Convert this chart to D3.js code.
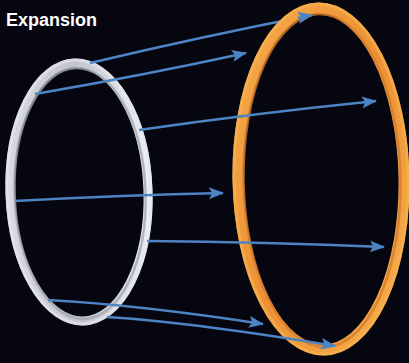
<!DOCTYPE html>
<html>
<head>
<meta charset="utf-8">
<script src="https://cdn.jsdelivr.net/npm/d3@7"></script>
<style>
  html, body { margin: 0; padding: 0; background: #05060f; }
  svg { display: block; }
</style>
</head>
<body>
<div id="chart"></div>
<script>
// rings: [name, cx, cy, rx, ry, tilt]
const rings = [
  ['source', 79, 192, 69, 129, -2],
  ['target', 321, 179, 83, 171, -1]
]

// arrows: start, bend, end
const arrowStart = [[90, 63], [35, 94], [139, 130], [15, 201], [147, 241], [48, 300], [107, 317]]
const arrowBend = [[200, 37], [140, 76], [257, 113], [125, 195], [265, 242], [140, 305], [190, 322]]
const arrowEnd = [[312, 15], [246, 53], [376, 101], [223, 193], [384, 247], [263, 324], [335, 346]]
const behindTarget = [true, false, false, false, false, false, false]

const title = 'Expansion'

const width = 409
const height = 363

const x = d3.scaleLinear().domain([0, 409]).range([0, width])
const y = d3.scaleLinear().domain([0, 363]).range([0, height])

const svg = d3
  .select('#chart')
  .append('svg')
  .attr('width', width)
  .attr('height', height)

svg.append('rect').attr('width', width).attr('height', height).attr('fill', '#05060f')

const defs = svg.append('defs')

// gradients for the two rings
let g1 = defs.append('linearGradient').attr('id', 'gWhite').attr('x1', '0').attr('x2', '1').attr('y1', '0').attr('y2', '0')
g1.append('stop').attr('offset', '0%').attr('stop-color', '#d9dae0')
g1.append('stop').attr('offset', '50%').attr('stop-color', '#c3c4cb')
g1.append('stop').attr('offset', '100%').attr('stop-color', '#eceef5')

let g2 = defs.append('linearGradient').attr('id', 'gOrange').attr('x1', '0').attr('x2', '1').attr('y1', '0').attr('y2', '1')
g2.append('stop').attr('offset', '0%').attr('stop-color', '#f5ab4a')
g2.append('stop').attr('offset', '50%').attr('stop-color', '#ec9036')
g2.append('stop').attr('offset', '100%').attr('stop-color', '#f7b04f')

// the head of the top arrow sits in front of the orange ring
defs
  .append('clipPath')
  .attr('id', 'headClip')
  .append('rect')
  .attr('x', 298)
  .attr('y', 0)
  .attr('width', 40)
  .attr('height', 40)

defs
  .append('marker')
  .attr('id', 'head')
  .attr('viewBox', '0 0 15 12')
  .attr('refX', 14)
  .attr('refY', 6)
  .attr('markerWidth', 15)
  .attr('markerHeight', 12)
  .attr('markerUnits', 'userSpaceOnUse')
  .attr('orient', 'auto')
  .append('path')
  .attr('d', 'M0,0 L15,6 L0,12 L3,6 Z')
  .attr('fill', '#4d84c4')

function drawRing(r, base, inner, outer, w) {
  let grp = svg
    .append('g')
    .attr('transform', `rotate(${r[5]}, ${x(r[1])}, ${y(r[2])})`)
  grp
    .append('ellipse')
    .attr('cx', x(r[1]))
    .attr('cy', y(r[2]))
    .attr('rx', x(r[3]))
    .attr('ry', y(r[4]))
    .attr('fill', 'none')
    .attr('stroke', base)
    .attr('stroke-width', w)
  grp
    .append('ellipse')
    .attr('cx', x(r[1]) + 1)
    .attr('cy', y(r[2]) + 1.5)
    .attr('rx', x(r[3]) - w / 2 + 1)
    .attr('ry', y(r[4]) - w / 2 + 1)
    .attr('fill', 'none')
    .attr('stroke', inner)
    .attr('stroke-width', 2.5)
    .attr('opacity', 0.8)
  grp
    .append('ellipse')
    .attr('cx', x(r[1]))
    .attr('cy', y(r[2]))
    .attr('rx', x(r[3]) + w / 2 - 1.5)
    .attr('ry', y(r[4]) + w / 2 - 1.5)
    .attr('fill', 'none')
    .attr('stroke', outer)
    .attr('stroke-width', 3)
    .attr('opacity', 0.7)
}

function arrowPath(i) {
  let p = d3.path()
  p.moveTo(x(arrowStart[i][0]), y(arrowStart[i][1]))
  p.quadraticCurveTo(x(arrowBend[i][0]), y(arrowBend[i][1]), x(arrowEnd[i][0]), y(arrowEnd[i][1]))
  return p.toString()
}

function drawArrows(filter, clip) {
  let grp = svg.append('g')
  if (clip) grp.attr('clip-path', clip)
  grp
    .selectAll('.arrow')
    .data(d3.range(arrowStart.length).filter(filter))
    .enter()
    .append('path')
    .attr('class', 'arrow')
    .attr('d', (i) => arrowPath(i))
    .attr('fill', 'none')
    .attr('stroke', '#4d84c4')
    .attr('stroke-width', 2.5)
    .attr('marker-end', 'url(#head)')
}

drawRing(rings[0], 'url(#gWhite)', '#a5a7b0', '#e6e7ee', 9)
drawArrows((i) => behindTarget[i])
drawRing(rings[1], 'url(#gOrange)', '#d47c2b', '#f7b04e', 11)
drawArrows((i) => behindTarget[i], 'url(#headClip)')
drawArrows((i) => !behindTarget[i])

svg
  .append('text')
  .attr('x', 6)
  .attr('y', 26)
  .attr('fill', '#ffffff')
  .attr('font-family', '"Liberation Sans", Arial, sans-serif')
  .attr('font-weight', 'bold')
  .attr('font-size', 18)
  .text(title)
</script>
</body>
</html>
